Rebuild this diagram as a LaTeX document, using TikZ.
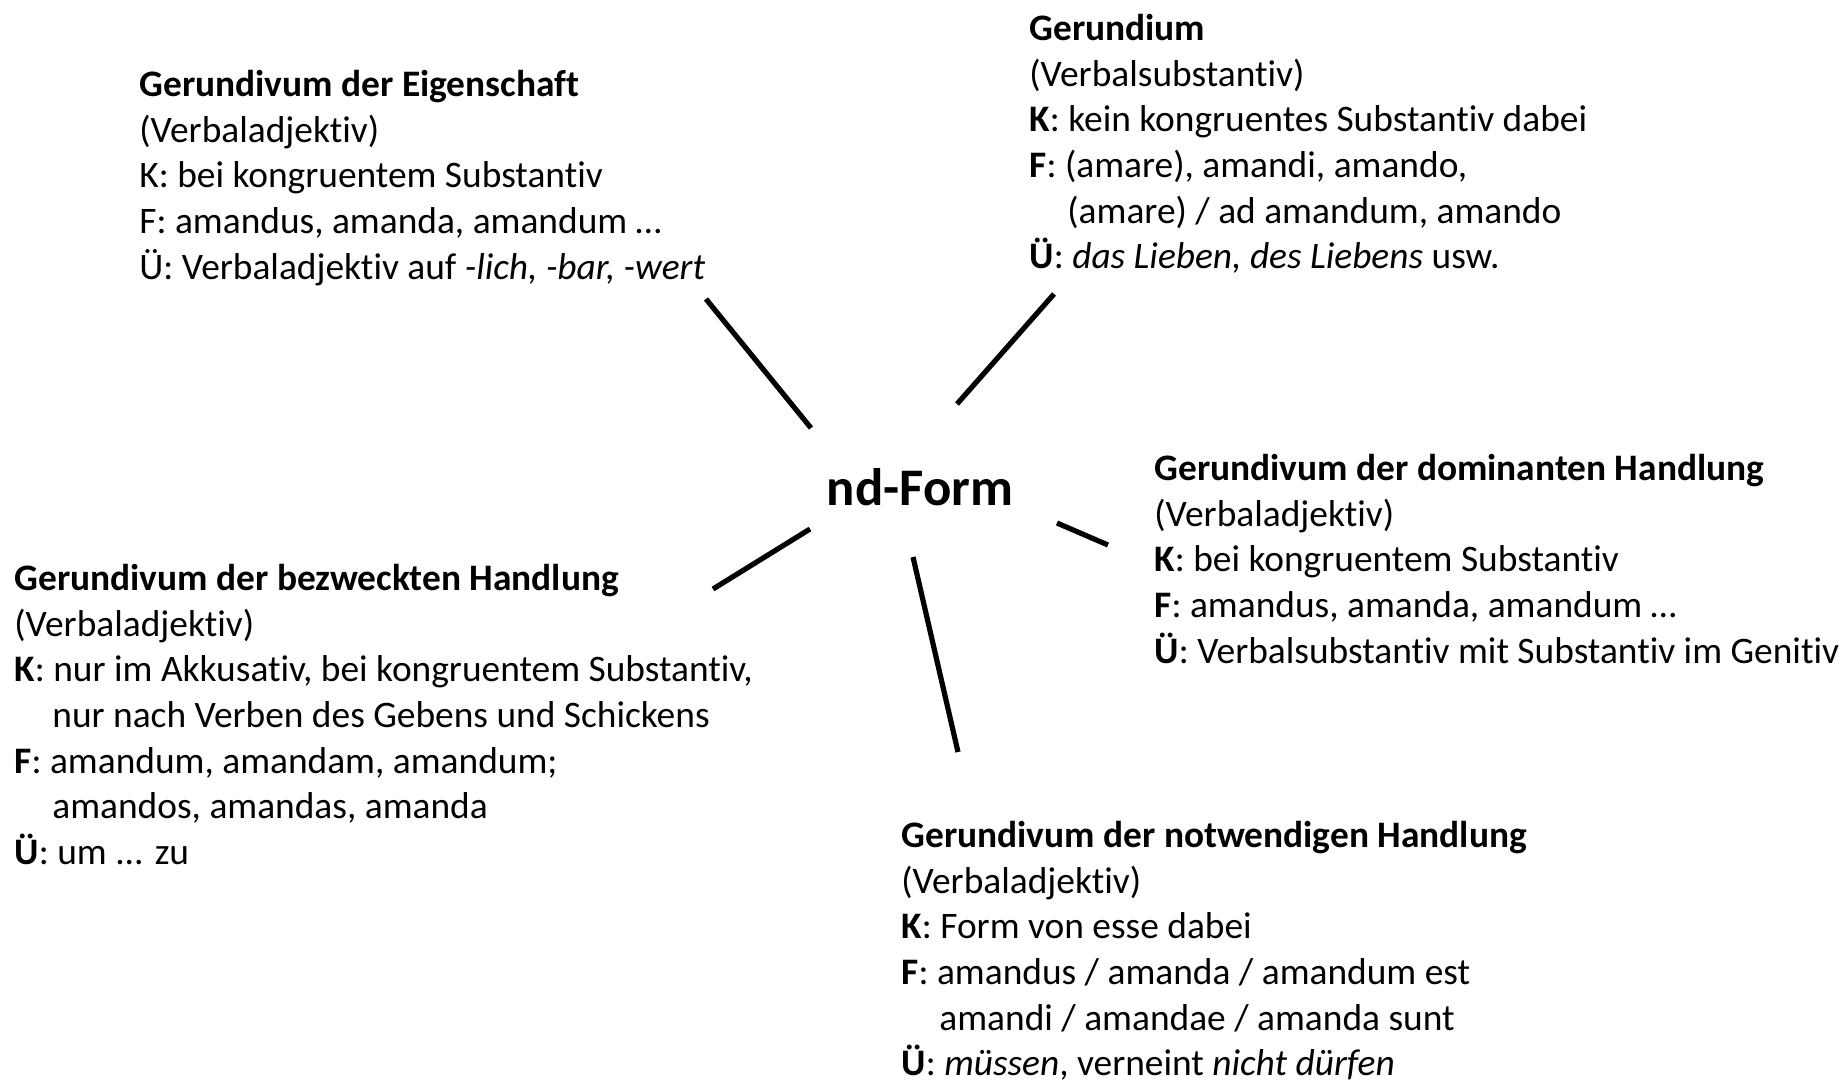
\documentclass[tikz,border=0pt]{standalone}
\usepackage{fontspec}
\setmainfont{Carlito}[Ligatures=NoCommon]
\newcommand{\ind}{\hspace*{19pt}}

\begin{document}
\begin{tikzpicture}[x=0.5pt,y=-0.5pt,
   block/.style={anchor=north west,inner sep=0pt,align=left,
      font=\fontsize{18.7}{22.85}\selectfont},
   spoke/.style={line width=2.6pt}]
\useasboundingbox (0,0) rectangle (1847,1084);
\node[anchor=base,inner sep=0pt,font=\fontsize{26.4}{30}\selectfont\bfseries] (nd) at (920,505) {nd-Form};
% the five kinds
\node[block] (eig) at (139,64) {\strut\textbf{Gerundivum der Eigenschaft}\\
   (Verbaladjektiv)\\
   K: bei kongruentem Substantiv\\
   F: amandus, amanda, amandum …\\
   Ü: Verbaladjektiv auf \textit{-lich, -bar, -wert}};
\node[block] (ger) at (1029,8) {\strut\textbf{Gerundium}\\
   (Verbalsubstantiv)\\
   \textbf{K}: kein kongruentes Substantiv dabei\\
   \textbf{F}: (amare), amandi, amando,\\
   \ind(amare) / ad amandum, amando\\
   \textbf{Ü}: \textit{das Lieben, des Liebens} usw.};
\node[block] (dom) at (1154,448) {\strut\textbf{Gerundivum der dominanten Handlung}\\
   (Verbaladjektiv)\\
   \textbf{K}: bei kongruentem Substantiv\\
   \textbf{F}: amandus, amanda, amandum …\\
   \textbf{Ü}: Verbalsubstantiv mit Substantiv im Genitiv};
\node[block] (bez) at (14,558) {\strut\textbf{Gerundivum der bezweckten Handlung}\\
   (Verbaladjektiv)\\
   \textbf{K}: nur im Akkusativ, bei kongruentem Substantiv,\\
   \ind nur nach Verben des Gebens und Schickens\\
   \textbf{F}: amandum, amandam, amandum;\\
   \ind amandos, amandas, amanda\\
   \textbf{Ü}: um ... zu};
\node[block] (not) at (901,815) {\strut\textbf{Gerundivum der notwendigen Handlung}\\
   (Verbaladjektiv)\\
   \textbf{K}: Form von esse dabei\\
   \textbf{F}: amandus / amanda / amandum est\\
   \ind amandi / amandae / amanda sunt\\
   \textbf{Ü}: \textit{müssen}, verneint \textit{nicht dürfen}};
% spokes
\coordinate (eig-a) at (811,428);
\coordinate (eig-b) at (706,299);
\coordinate (ger-a) at (957,404);
\coordinate (ger-b) at (1054,294);
\coordinate (dom-a) at (1057,523);
\coordinate (dom-b) at (1108,545);
\coordinate (bez-a) at (810,529);
\coordinate (bez-b) at (713,589);
\coordinate (not-a) at (913,557);
\coordinate (not-b) at (958,752);
\foreach \k in {eig,ger,dom,bez,not}
   \draw[spoke] (\k-a) -- (\k-b);
\end{tikzpicture}
\end{document}
